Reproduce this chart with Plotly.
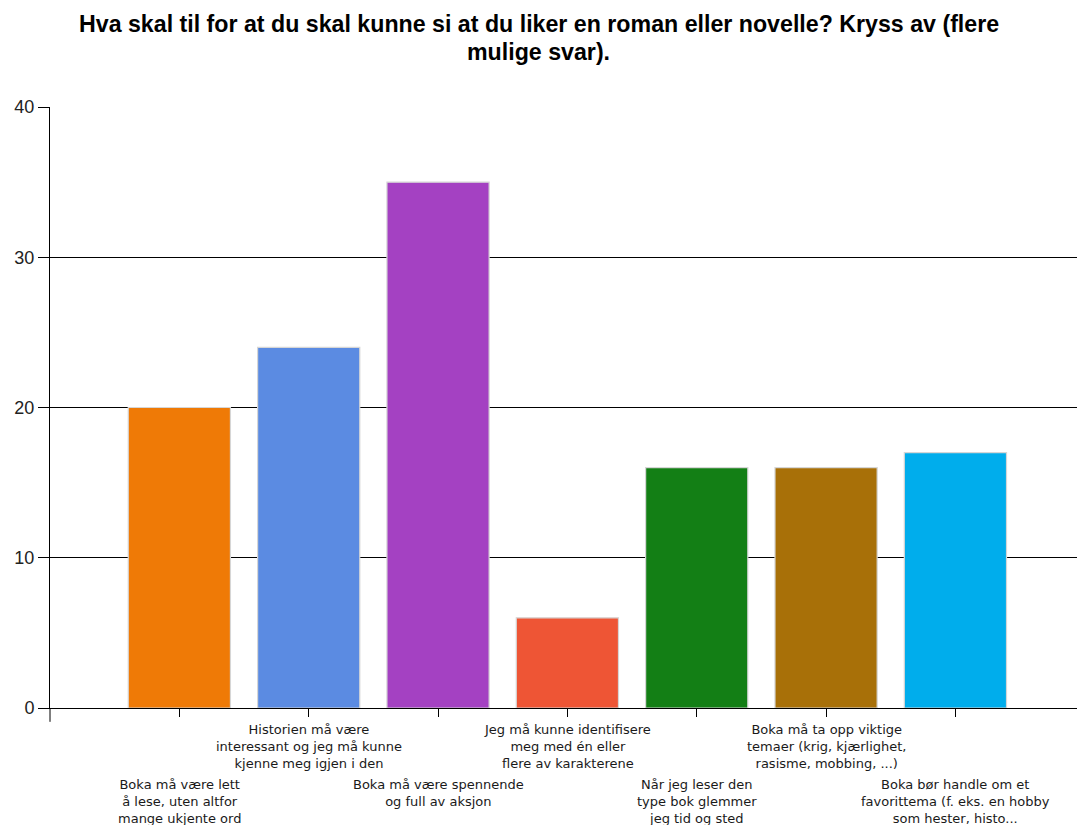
import plotly.graph_objects as go

# Survey answers (number of respondents per option)
labels = [
    "Boka må være lett<br>å lese, uten altfor<br>mange ukjente ord",
    "Historien må være<br>interessant og jeg må kunne<br>kjenne meg igjen i den",
    "Boka må være spennende<br>og full av aksjon",
    "Jeg må kunne identifisere<br>meg med én eller<br>flere av karakterene",
    "Når jeg leser den<br>type bok glemmer<br>jeg tid og sted",
    "Boka må ta opp viktige<br>temaer (krig, kjærlighet,<br>rasisme, mobbing, ...)",
    "Boka bør handle om et<br>favorittema (f. eks. en hobby<br>som hester, histo...",
]
counts = [20, 24, 35, 6, 16, 16, 17]
bar_colors = ["#EF7A06", "#5B8BE2", "#A441C2", "#EE5535", "#137F15", "#A87008", "#00ADEC"]
positions = list(range(1, len(counts) + 1))

title_lines = [
    "Hva skal til for at du skal kunne si at du liker en roman eller novelle? Kryss av (flere",
    "mulige svar).",
]

fig = go.Figure()
fig.add_trace(go.Bar(
    x=positions,
    y=counts,
    width=0.79,
    marker=dict(color=bar_colors, line=dict(color="#D6D6D6", width=1.2)),
    showlegend=False,
    hoverinfo="x+y",
))

annotations = []
# Two-line bold title, centred on the page
for line, shift in zip(title_lines, [83, 55]):
    annotations.append(dict(
        x=0.4757, y=1, xref="paper", yref="paper",
        xanchor="center", yanchor="middle", yshift=shift,
        text="<b>" + line + "</b>", showarrow=False,
        font=dict(family="Liberation Sans", size=23.2, color="black"),
    ))

# Staggered category labels under the axis
for i, (pos, lab) in enumerate(zip(positions, labels)):
    annotations.append(dict(
        x=pos, y=0, xref="x", yref="paper",
        text=lab, showarrow=False,
        xanchor="center", yanchor="top",
        yshift=-67 if i % 2 == 0 else -12,
        align="center",
        font=dict(family="DejaVu Sans", size=13, color="#1a1a1a"),
    ))

fig.update_layout(
    width=1077, height=825,
    margin=dict(l=50, r=0, t=107, b=117),
    paper_bgcolor="white", plot_bgcolor="white",
    annotations=annotations,
    # y-axis line continues a little below the zero line
    shapes=[dict(type="line", xref="paper", yref="paper",
                 x0=0, x1=0, y0=0, y1=-0.023,
                 line=dict(color="black", width=1))],
    xaxis=dict(
        range=[0, 7.94],
        tickvals=positions, ticktext=[""] * len(positions),
        ticks="outside", ticklen=8, tickcolor="black", tickwidth=1,
        showgrid=False, zeroline=False,
        showline=True, linecolor="black", linewidth=1,
    ),
    yaxis=dict(
        range=[0, 40], tickvals=[0, 10, 20, 30, 40],
        ticks="outside", ticklen=11, tickcolor="black", tickwidth=1,
        showgrid=True, gridcolor="black", gridwidth=1,
        zeroline=False,
        showline=True, linecolor="black", linewidth=1,
        tickfont=dict(family="Liberation Sans", size=18, color="#222"),
    ),
    bargap=0.21,
)

fig.write_html("out.html")
